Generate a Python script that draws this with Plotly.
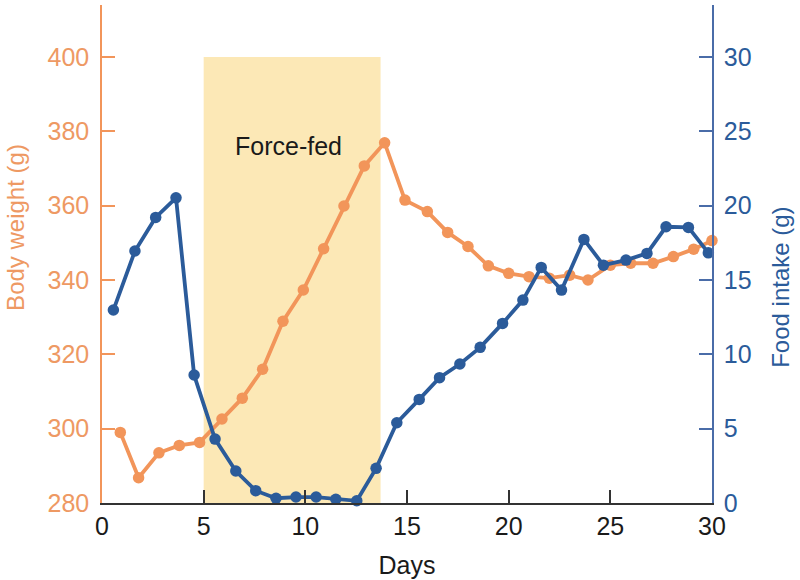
import plotly.graph_objects as go

# Body weight (g), orange series
weight_days = [0.9, 1.8, 2.8, 3.8, 4.8, 5.9, 6.9, 7.9, 8.9, 9.9, 10.9, 11.9, 12.9, 13.9, 14.9,
               16.0, 17.0, 18.0, 19.0, 20.0, 21.0, 22.0, 23.0, 23.9, 25.0, 26.0, 27.1, 28.1, 29.1, 30.0]
weight_g = [299.0, 286.8, 293.5, 295.5, 296.3, 302.6, 308.2, 316.0, 328.9, 337.3, 348.4, 359.9, 370.7, 376.9, 361.5,
            358.4, 352.8, 349.0, 343.8, 341.8, 340.9, 340.5, 341.3, 340.0, 344.0, 344.5, 344.5, 346.3, 348.3, 350.6]

# Food intake (g), blue series
intake_days = [0.56, 1.62, 2.64, 3.64, 4.53, 5.56, 6.58, 7.56, 8.56, 9.54, 10.53, 11.5, 12.53, 13.48, 14.5,
               15.6, 16.6, 17.6, 18.6, 19.7, 20.7, 21.6, 22.6, 23.7, 24.66, 25.77, 26.8, 27.74, 28.84, 29.82]
intake_g = [12.98, 16.95, 19.21, 20.53, 8.61, 4.30, 2.15, 0.83, 0.32, 0.40, 0.40, 0.25, 0.15, 2.33, 5.40,
            6.97, 8.43, 9.35, 10.47, 12.08, 13.65, 15.85, 14.32, 17.73, 16.0, 16.34, 16.79, 18.58, 18.54, 16.83]

x_ticks = [0, 5, 10, 15, 20, 25, 30]
weight_ticks = [280, 300, 320, 340, 360, 380, 400]
intake_ticks = [0, 5, 10, 15, 20, 25, 30]

force_fed_start, force_fed_end = 5, 13.7
force_fed_label = "Force-fed"

ORANGE = "#F2955A"
ORANGE_TXT = "#EE9963"
BLUE = "#2B5B9A"
BLUE_AX = "#4A6CA8"
SHADE = "#FCE8B6"
FONT = "Liberation Sans, Arial, sans-serif"
FS = 25

fig = go.Figure()

fig.add_trace(go.Scatter(
    x=intake_days, y=intake_g, yaxis="y2", mode="lines+markers",
    line=dict(color=BLUE, width=3.8), marker=dict(color=BLUE, size=11.5),
    cliponaxis=False, showlegend=False))

fig.add_trace(go.Scatter(
    x=weight_days, y=weight_g, yaxis="y", mode="lines+markers",
    line=dict(color=ORANGE, width=3.8), marker=dict(color=ORANGE, size=11.5),
    cliponaxis=False, showlegend=False))

fig.add_shape(type="rect", xref="x", yref="y", x0=force_fed_start, x1=force_fed_end,
              y0=280, y1=400, fillcolor=SHADE, line=dict(width=0), layer="below")

fig.add_annotation(x=9.15, y=376, xref="x", yref="y",
                   text=force_fed_label, showarrow=False,
                   font=dict(family=FONT, size=FS, color="#1a1a1a"))

fig.add_annotation(x=-0.143, y=0.554, xref="paper", yref="paper", text="Body weight (g)",
                   textangle=-90, showarrow=False, xanchor="center", yanchor="middle",
                   font=dict(family=FONT, size=24, color=ORANGE_TXT))
fig.add_annotation(x=1.113, y=0.434, xref="paper", yref="paper", text="Food intake (g)",
                   textangle=-90, showarrow=False, xanchor="center", yanchor="middle",
                   font=dict(family=FONT, size=24, color=BLUE))

fig.update_layout(
    width=800, height=580,
    margin=dict(l=102, r=88, t=5, b=77),
    paper_bgcolor="white", plot_bgcolor="white",
    font=dict(family=FONT, size=FS),
    xaxis=dict(range=[0, 30], tickvals=x_ticks, ticks="inside", ticklen=13, tickwidth=1.5,
               tickcolor="#333333", showline=True, linecolor="#333333", linewidth=1.5,
               showgrid=False, zeroline=False, tickfont=dict(color="#1a1a1a", size=FS),
               title=dict(text="Days", font=dict(size=FS, color="#1a1a1a"), standoff=18)),
    yaxis=dict(range=[280, 413.99], tickvals=weight_ticks, ticks="inside", ticklen=13,
               tickwidth=1.5, tickcolor=ORANGE, showline=True, linecolor=ORANGE, linewidth=1.5,
               showgrid=False, zeroline=False, tickfont=dict(color=ORANGE_TXT, size=FS),
               ticklabelstandoff=6),
    yaxis2=dict(range=[0, 33.5], tickvals=intake_ticks, overlaying="y", side="right",
                ticks="inside", ticklen=13, tickwidth=1.5, tickcolor=BLUE_AX, showline=True,
                linecolor=BLUE_AX, linewidth=1.5, showgrid=False, zeroline=False,
                tickfont=dict(color=BLUE, size=FS), ticklabelstandoff=5),
)

fig.write_html("out.html", config={"displayModeBar": False},
               post_script="document.body.style.margin='0px';")
